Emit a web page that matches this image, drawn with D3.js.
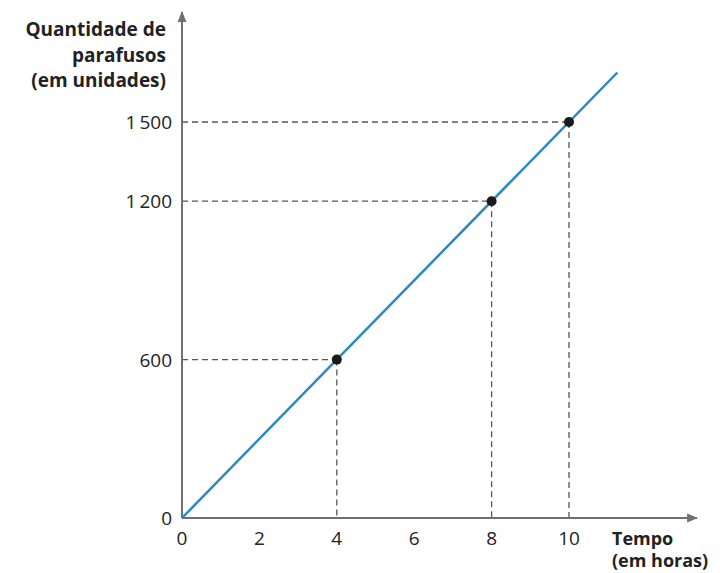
<!DOCTYPE html>
<html>
<head>
<meta charset="utf-8">
<script src="https://cdn.jsdelivr.net/npm/d3@7"></script>
<style>
  body { margin: 0; background: #fff; }
  text { font-family: "Open Sans", "Noto Sans", sans-serif; fill: #222; }
</style>
</head>
<body>
<div id="content"></div>
<script>
// Screen dimensions
var w = 720;
var h = 573;

// Data
var xTicks = [0, 2, 4, 6, 8, 10];
var yTicks = [0, 600, 1200, 1500];
var yTickLabels = ["0", "600", "1\u2009200", "1\u2009500"];
var hours = [4, 8, 10];
var screws = [600, 1200, 1500];
var lineX = [0, 11.25];
var lineY = [0, 1687.5];

// Scales
var x = d3.scaleLinear().domain([0, 10]).range([182, 569]);
var y = d3.scaleLinear().domain([0, 1500]).range([518, 122]);

var svg = d3.select("#content")
    .append("svg")
    .attr("width", w)
    .attr("height", h);

// Arrow markers
svg.append("defs").append("marker")
   .attr("id", "arrow")
   .attr("viewBox", "0 0 10 10")
   .attr("refX", 9)
   .attr("refY", 5)
   .attr("markerWidth", 11)
   .attr("markerHeight", 11)
   .attr("markerUnits", "userSpaceOnUse")
   .attr("orient", "auto")
   .append("path")
   .attr("d", "M0,1 L10,5 L0,9 Z")
   .attr("fill", "#707070");

// Dashed guides
var pts = hours.map(function(d, i) { return [d, screws[i]]; });
svg.selectAll("line.hguide")
   .data(pts)
   .enter()
   .append("line")
   .attr("class", "hguide")
   .attr("x1", x(0))
   .attr("x2", function(d) { return x(d[0]); })
   .attr("y1", function(d) { return y(d[1]); })
   .attr("y2", function(d) { return y(d[1]); })
   .attr("stroke", "#555")
   .attr("stroke-width", 1.3)
   .attr("stroke-dasharray", "6,4");
svg.selectAll("line.vguide")
   .data(pts)
   .enter()
   .append("line")
   .attr("class", "vguide")
   .attr("x1", function(d) { return x(d[0]); })
   .attr("x2", function(d) { return x(d[0]); })
   .attr("y1", function(d) { return y(d[1]); })
   .attr("y2", y(0))
   .attr("stroke", "#555")
   .attr("stroke-width", 1.3)
   .attr("stroke-dasharray", "6,4");

// Axes
svg.append("line")
   .attr("x1", x(0)).attr("y1", y(0))
   .attr("x2", 697).attr("y2", y(0))
   .attr("stroke", "#707070")
   .attr("stroke-width", 2)
   .attr("marker-end", "url(#arrow)");
svg.append("line")
   .attr("x1", x(0)).attr("y1", y(0))
   .attr("x2", x(0)).attr("y2", 12)
   .attr("stroke", "#707070")
   .attr("stroke-width", 2)
   .attr("marker-end", "url(#arrow)");

// The line
svg.append("line")
   .attr("x1", x(lineX[0])).attr("y1", y(lineY[0]))
   .attr("x2", x(lineX[1])).attr("y2", y(lineY[1]))
   .attr("stroke", "#2b88c2")
   .attr("stroke-width", 2.5);

// Points
svg.selectAll("circle")
   .data(pts)
   .enter()
   .append("circle")
   .attr("cx", function(d) { return x(d[0]); })
   .attr("cy", function(d) { return y(d[1]); })
   .attr("r", 5)
   .attr("fill", "#1a1a1a");

// Tick labels
svg.selectAll("text.xtick")
   .data(xTicks)
   .enter()
   .append("text")
   .attr("class", "xtick")
   .attr("x", function(d) { return x(d); })
   .attr("y", 545)
   .attr("text-anchor", "middle")
   .attr("font-size", 19)
   .text(function(d) { return d; });
svg.selectAll("text.ytick")
   .data(yTicks)
   .enter()
   .append("text")
   .attr("class", "ytick")
   .attr("x", 172)
   .attr("y", function(d) { return y(d) + 7; })
   .attr("text-anchor", "end")
   .attr("font-size", 19)
   .text(function(d, i) { return yTickLabels[i]; });

// Axis titles
var yTitle = ["Quantidade de", "parafusos", "(em unidades)"];
svg.selectAll("text.ytitle")
   .data(yTitle)
   .enter()
   .append("text")
   .attr("class", "ytitle")
   .attr("x", 166)
   .attr("y", function(d, i) { return 36 + i * 25.5; })
   .attr("text-anchor", "end")
   .attr("font-size", 19)
   .attr("font-weight", "bold")
   .text(function(d) { return d; });
var xTitle = ["Tempo", "(em horas)"];
svg.selectAll("text.xtitle")
   .data(xTitle)
   .enter()
   .append("text")
   .attr("class", "xtitle")
   .attr("x", 612)
   .attr("y", function(d, i) { return 545 + i * 22; })
   .attr("font-size", 18)
   .attr("font-weight", "bold")
   .text(function(d) { return d; });
</script>
</body>
</html>
